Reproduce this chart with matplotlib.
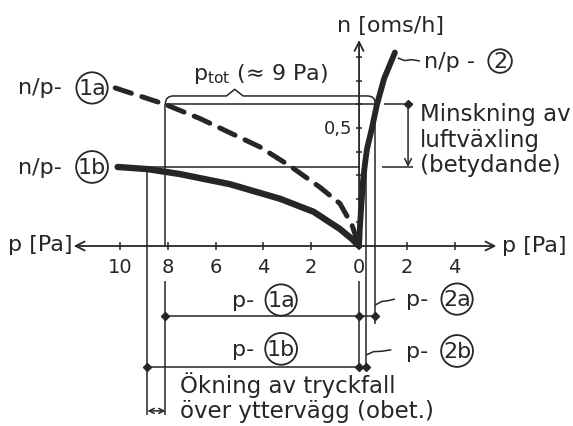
import numpy as np
import matplotlib.pyplot as plt
from matplotlib.path import Path
from matplotlib.patches import PathPatch

plt.rcParams['font.family'] = ['DejaVu Sans']
plt.rcParams['mathtext.fontset'] = 'dejavusans'

INK = '#262626'

# kurva n/p-1a (streckad), p räknas åt vänster
p_1a = [10.2, 8.1, 6.65, 5.4, 4.15, 2.9, 1.65, 0.8, 0.3, 0.0]
n_1a = [0.67, 0.60, 0.54, 0.48, 0.42, 0.34, 0.25, 0.18, 0.09, 0.0]

# kurva n/p-1b (tjock)
p_1b = [10.1, 8.85, 7.5, 5.4, 3.3, 1.9, 0.8, 0.3, 0.0]
n_1b = [0.335, 0.326, 0.305, 0.262, 0.20, 0.145, 0.072, 0.03, 0.0]

# kurva n/p-2 (tjock, åt höger)
p_2 = [0.0, 0.03, 0.08, 0.17, 0.25, 0.33, 0.54, 0.75, 1.05, 1.5]
n_2 = [0.0, 0.07, 0.15, 0.28, 0.35, 0.41, 0.50, 0.60, 0.71, 0.82]

# avläsningar
p_tot_1a = 8.1     # p-1a
p_tot_1b = 8.85    # p-1b
p_2a = 0.68
p_2b = 0.30
n_level_a = 0.60
n_level_b = 0.335

x_ticks_left = [10, 8, 6, 4, 2, 0]
x_ticks_right = [2, 4]
y_ticks = [0.1, 0.2, 0.3, 0.4, 0.5, 0.6, 0.7, 0.8]

fig = plt.figure(figsize=(5.73, 4.27), dpi=100)
ax = fig.add_axes([0, 0, 1, 1])
ax.set_xlim(-15.02, 8.95)
ax.set_ylim(-0.763, 1.047)
ax.axis('off')

thin = dict(color=INK, lw=1.1, solid_capstyle='butt')

# axlar med pilar
ax.annotate('', xy=(-12.05, 0), xytext=(5.86, 0),
            arrowprops=dict(arrowstyle='<->', color=INK, lw=1.3, mutation_scale=16))
ax.annotate('', xy=(0, 0.885), xytext=(0, 0),
            arrowprops=dict(arrowstyle='->', color=INK, lw=1.3, mutation_scale=16))

for t in x_ticks_left:
    ax.plot([-t, -t], [-0.016, 0.016], **thin)
    ax.text(-t, -0.088, str(t), ha='center', va='center', fontsize=14, color=INK)
for t in x_ticks_right:
    ax.plot([t, t], [-0.016, 0.016], **thin)
    ax.text(t, -0.088, str(t), ha='center', va='center', fontsize=14, color=INK)
for t in y_ticks:
    ax.plot([-0.13, 0.13], [t, t], **thin)
ax.text(-0.3, 0.5, '0,5', ha='right', va='center', fontsize=13, color=INK)

# kurvor
ax.plot([-p for p in p_1a], n_1a, color=INK, lw=3.6, dashes=(3.4, 2.2),
        dash_capstyle='round')
ax.plot([-p for p in p_1b], n_1b, color=INK, lw=4.6, solid_capstyle='round')
ax.plot(p_2, n_2, color=INK, lw=4.2, solid_capstyle='round')

# nivålinjer
ax.plot([-p_tot_1a, p_2a], [n_level_a, n_level_a], **thin)
ax.plot([1.05, 2.26], [n_level_a, n_level_a], **thin)
ax.plot([-p_1b[0], 0.05], [n_level_b, n_level_b], **thin)
ax.plot([0.95, 2.26], [n_level_b, n_level_b], **thin)

# klammer p_tot med rundade hörn
yb, r, ry = 0.636, 0.33, 0.034
xl, xr, xm = -p_tot_1a, p_2a, -5.2
verts = [(xl, yb - ry), (xl, yb), (xl + r, yb), (xm - 0.35, yb), (xm, yb + 0.028),
         (xm + 0.35, yb), (xr - r, yb), (xr, yb), (xr, yb - ry)]
codes = [Path.MOVETO, Path.CURVE3, Path.CURVE3, Path.LINETO, Path.LINETO,
         Path.LINETO, Path.LINETO, Path.CURVE3, Path.CURVE3]
ax.add_patch(PathPatch(Path(verts, codes), fill=False, ec=INK, lw=1.1))

# vertikala linjer
ax.plot([xl, xl], [yb - ry, 0], **thin)
ax.plot([xl, xl], [-0.15, -0.715], **thin)
ax.plot([-p_tot_1b, -p_tot_1b], [n_level_b, -0.715], **thin)
ax.plot([0, 0], [-0.15, -0.513], **thin)
ax.plot([p_2b, p_2b], [n_level_b, -0.53], **thin)
ax.plot([xr, xr], [yb - ry, -0.33], **thin)

# måttlinjer under axeln
y_a, y_b, y_c = -0.297, -0.513, -0.699
ax.plot([-p_tot_1a, p_2a], [y_a, y_a], **thin)
ax.plot([-p_tot_1b, p_2b], [y_b, y_b], **thin)
ax.plot([-p_tot_1a, 0, p_2a], [y_a] * 3, 'D', color=INK, ms=4.5, ls='none')
ax.plot([-p_tot_1b, 0, p_2b], [y_b] * 3, 'D', color=INK, ms=4.5, ls='none')
ax.annotate('', xy=(-p_tot_1b, y_c), xytext=(-p_tot_1a, y_c),
            arrowprops=dict(arrowstyle='<->', color=INK, lw=1.1, mutation_scale=9,
                            shrinkA=0, shrinkB=0))

# minskning av luftväxling
ax.plot([2.05], [n_level_a], 'D', color=INK, ms=4.5)
ax.annotate('', xy=(2.05, n_level_b), xytext=(2.05, n_level_a),
            arrowprops=dict(arrowstyle='->', color=INK, lw=1.1, mutation_scale=12,
                            shrinkA=0, shrinkB=0))

# hänvisningslinjer
ax.plot([1.62, 1.9, 2.2, 2.55], [0.797, 0.786, 0.79, 0.784], **thin)
ax.plot([p_2a, 0.95, 1.2, 1.5], [-0.25, -0.235, -0.232, -0.225], **thin)
ax.plot([p_2b, 0.6, 0.95, 1.35], [-0.462, -0.448, -0.446, -0.44], **thin)

# texter
fs = 16
circ = dict(boxstyle='circle,pad=0.08', fc='white', ec=INK, lw=1.3)
tx = dict(ha='center', va='center', color=INK, fontsize=fs)

ax.text(-13.35, 0.674, 'n/p-', **tx)
ax.text(-11.17, 0.67, '1a', bbox=circ, **tx)
ax.text(-13.35, 0.335, 'n/p-', **tx)
ax.text(-11.17, 0.335, '1b', bbox=circ, **tx)
ax.text(3.8, 0.784, 'n/p -', **tx)
ax.text(5.9, 0.784, '2', bbox=circ, **tx)

ax.text(-4.85, -0.229, 'p-', **tx)
ax.text(-3.26, -0.229, '1a', bbox=circ, **tx)
ax.text(-4.85, -0.436, 'p-', **tx)
ax.text(-3.26, -0.436, '1b', bbox=circ, **tx)
ax.text(2.45, -0.225, 'p-', **tx)
ax.text(4.1, -0.225, '2a', bbox=circ, **tx)
ax.text(2.45, -0.445, 'p-', **tx)
ax.text(4.1, -0.445, '2b', bbox=circ, **tx)

ax.text(-13.35, 0.008, 'p [Pa]', **tx)
ax.text(5.98, 0.005, 'p [Pa]', ha='left', va='center', color=INK, fontsize=fs)
ax.text(1.3, 0.936, 'n [oms/h]', **tx)
ax.text(-6.95, 0.735, r'$\mathrm{p}_{\mathrm{tot}}$ (≈ 9 Pa)', ha='left', va='center',
        color=INK, fontsize=fs)

for yy, s in zip([0.56, 0.453, 0.347], ['Minskning av', 'luftväxling', '(betydande)']):
    ax.text(2.55, yy, s, ha='left', va='center', color=INK, fontsize=16.5)
ax.text(-7.49, -0.585, 'Ökning av tryckfall', ha='left', va='center', color=INK,
        fontsize=16.5)
ax.text(-7.49, -0.698, 'över yttervägg (obet.)', ha='left', va='center', color=INK,
        fontsize=16.5)

fig.savefig('out.png', dpi=100, facecolor='white')
